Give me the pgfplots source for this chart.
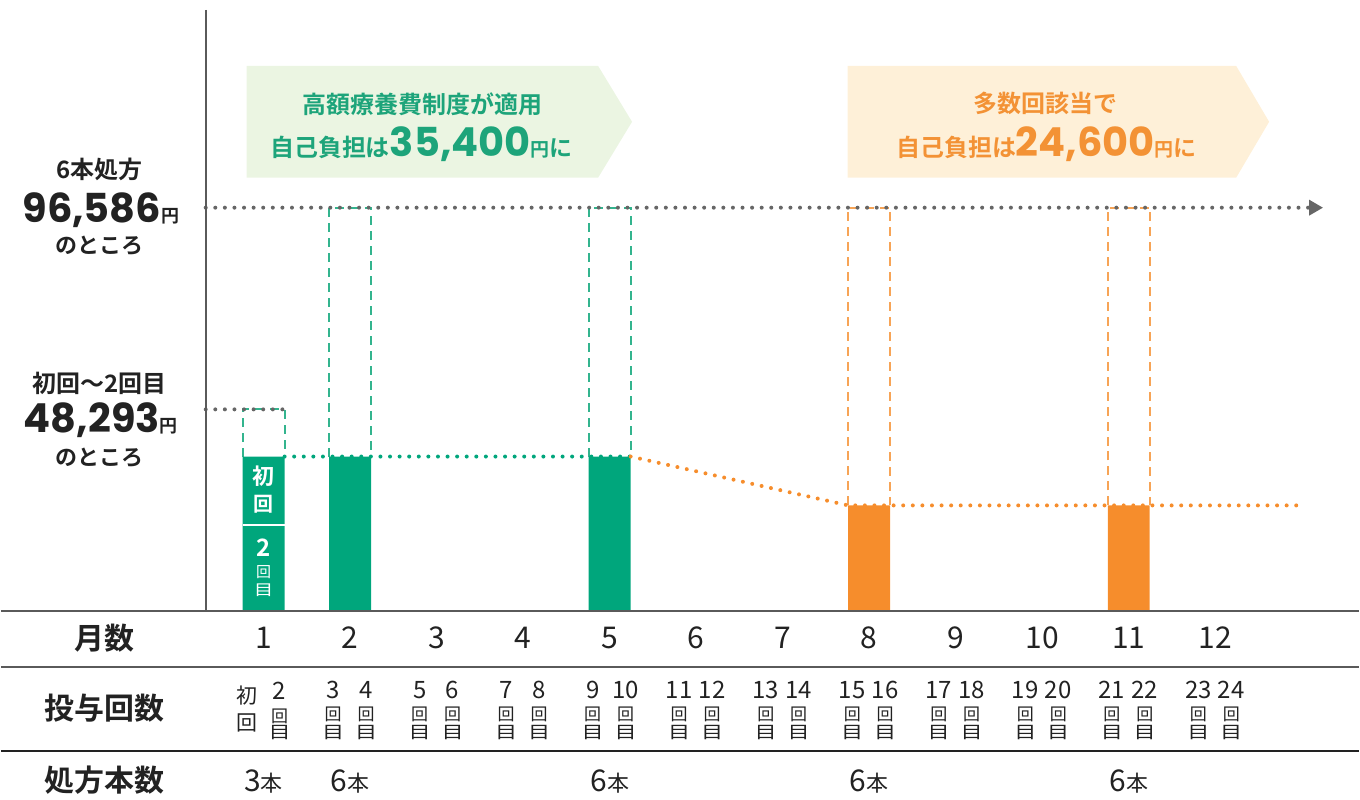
\documentclass[border=0pt]{standalone}
\usepackage{fontspec}
\setmainfont{Noto Sans CJK JP}[BoldFont={Noto Sans CJK JP Bold}]
\newfontfamily\numfont{Poppins}
\usepackage{graphicx}
\usepackage{pgfplots}
\pgfplotsset{compat=1.18}
\usetikzlibrary{arrows.meta}
\definecolor{cgreen}{HTML}{00A67C}
\definecolor{corange}{HTML}{F68D2C}
\definecolor{cgreenl}{HTML}{33B48E}
\definecolor{corangel}{HTML}{F7A456}
\definecolor{bgreen}{HTML}{EBF5E2}
\definecolor{borange}{HTML}{FEF0D8}
\definecolor{tgreen}{HTML}{1DA47A}
\definecolor{torange}{HTML}{F39235}
\definecolor{cdot}{HTML}{666666}
\definecolor{cline}{HTML}{5A5A5A}
\definecolor{ctext}{HTML}{222222}
\newcommand\fs[1]{\fontsize{#1}{#1}\selectfont}
\tikzset{
 dotbase/.style={line width=2pt, line cap=round, dash pattern=on 0pt off 4.8pt},
 dotgray/.style={dotbase, draw=cdot},
 dotg/.style={dotbase, draw=cgreen},
 doto/.style={dotbase, draw=corange},
 dgreen/.style={draw=cgreenl, line width=1pt, dash pattern=on 4.5pt off 3pt},
 dorange/.style={draw=corangel, line width=1pt, dash pattern=on 4.5pt off 3pt},
}
% dose-count cell: month, first number, second number
\newcommand\dose[3]{%
 \node[inner sep=0pt, text=ctext, font=\fs{12pt}] at (axis cs:#1-0.196,-18887) {#2};
 \node[inner sep=0pt, text=ctext, font=\fs{12pt}] at (axis cs:#1+0.185,-18887) {#3};
 \node[inner sep=0pt, text=ctext, font=\fs{8.5pt}] at (axis cs:#1-0.196,-24624) {回};
 \node[inner sep=0pt, text=ctext, font=\fs{8.5pt}] at (axis cs:#1+0.185,-24624) {回};
 \node[inner sep=0pt, text=ctext, font=\fs{8.5pt}] at (axis cs:#1-0.196,-29167) {\scalebox{1.3}[1]{目}};
 \node[inner sep=0pt, text=ctext, font=\fs{8.5pt}] at (axis cs:#1+0.185,-29167) {\scalebox{1.3}[1]{目}};
}
\newcommand\hon[2]{%
 \node[inner sep=0pt, anchor=base, text=ctext] at (axis cs:#1,-43272) {\fs{15pt}#2\fs{11pt}本};
}
\begin{document}
\begin{tikzpicture}
\begin{axis}[scale only axis, width=680pt, height=400.5pt,
 xmin=-2.0355, xmax=13.6614, ymin=-45185, ymax=146311,
 hide axis, clip=false]
\path (rel axis cs:0,0) rectangle (rel axis cs:1,1);

% banners
\fill[bgreen] (rel axis cs:246/1360,1-66/801) -- (rel axis cs:598/1360,1-66/801) -- (rel axis cs:632/1360,1-122/801) -- (rel axis cs:598/1360,1-178/801) -- (rel axis cs:246/1360,1-178/801) -- cycle;
\fill[borange] (rel axis cs:848/1360,1-66/801) -- (rel axis cs:1237/1360,1-66/801) -- (rel axis cs:1270/1360,1-122/801) -- (rel axis cs:1237/1360,1-178/801) -- (rel axis cs:848/1360,1-178/801) -- cycle;

\node[inner sep=0pt, text=tgreen, font=\bfseries\fs{12pt}] at (rel axis cs:422/1360,1-104/801) {高額療養費制度が適用};
\node[inner sep=0pt, anchor=base, text=tgreen, font=\bfseries] at (rel axis cs:421/1360,1-157/801) {\fs{12pt}自己負担は{\numfont\bfseries\fs{20pt}35,400}\fs{9.5pt}円\fs{11.5pt}に};
\node[inner sep=0pt, text=torange, font=\bfseries\fs{12pt}] at (rel axis cs:1046/1360,1-104/801) {多数回該当で};
\node[inner sep=0pt, anchor=base, text=torange, font=\bfseries] at (rel axis cs:1047/1360,1-157/801) {\fs{12pt}自己負担は{\numfont\bfseries\fs{20pt}24,600}\fs{9.5pt}円\fs{11.5pt}に};

% left labels
\node[inner sep=0pt, text=ctext, font=\bfseries\fs{12pt}] at (rel axis cs:99/1360,1-170/801) {6本処方};
\node[inner sep=0pt, anchor=base, text=ctext, font=\bfseries] at (rel axis cs:100/1360,1-223/801) {{\numfont\bfseries\fs{20pt}96,586}\fs{9pt}円};
\node[inner sep=0pt, text=ctext, font=\bfseries\fs{11pt}] at (rel axis cs:99/1360,1-246/801) {のところ};
\node[inner sep=0pt, text=ctext, font=\bfseries\fs{12pt}] at (rel axis cs:99/1360,1-384/801) {初回〜2回目};
\node[inner sep=0pt, anchor=base, text=ctext, font=\bfseries] at (rel axis cs:100/1360,1-433/801) {{\numfont\bfseries\fs{20pt}48,293}\fs{9pt}円};
\node[inner sep=0pt, text=ctext, font=\bfseries\fs{11pt}] at (rel axis cs:99/1360,1-458/801) {のところ};

% dashed outlines (full cost levels)
\addplot[dgreen] coordinates {(0.7576,37000) (0.7576,48293) (1.2424,48293) (1.2424,37000)};
\addplot[dgreen] coordinates {(1.7576,37000) (1.7576,96586) (2.2424,96586) (2.2424,37000)};
\addplot[dgreen] coordinates {(4.7576,37000) (4.7576,96586) (5.2424,96586) (5.2424,37000)};
\addplot[dorange] coordinates {(7.7576,25300) (7.7576,96586) (8.2424,96586) (8.2424,25300)};
\addplot[dorange] coordinates {(10.7576,25300) (10.7576,96586) (11.2424,96586) (11.2424,25300)};

% bars
\addplot[ybar, bar width=0.4848, bar shift=0pt, fill=cgreen, draw=none] coordinates {(1,37000) (2,37000) (5,37000)};
\addplot[ybar, bar width=0.4848, bar shift=0pt, fill=corange, draw=none] coordinates {(8,25300) (11,25300)};

% dotted lines
\addplot[dotg] coordinates {(1.2424,37000) (5.2424,37000)};
\addplot[doto] coordinates {(5.2424,37000) (7.7576,25300) (13.027,25300)};
\addplot[dotgray] coordinates {(0.3306,48293) (1.2424,48293)};
\addplot[dotgray, -{Triangle[length=7pt,width=7.5pt]}] coordinates {(0.3306,96586) (13.2461,96586)};

% labels inside first bar
\node[inner sep=0pt, text=white, font=\bfseries\fs{11pt}] at (axis cs:1,32274) {初};
\node[inner sep=0pt, text=white, font=\bfseries\fs{10pt}] at (axis cs:1,25580) {回};
\draw[white, line width=1pt] (axis cs:0.7576,20560) -- (axis cs:1.2424,20560);
\node[inner sep=0pt, text=white, font=\bfseries\fs{12pt}] at (axis cs:1,15061) {2};
\node[inner sep=0pt, text=white, font=\fs{7.5pt}] at (axis cs:1,9324) {回};
\node[inner sep=0pt, text=white, font=\fs{7.5pt}] at (axis cs:1,5020) {\scalebox{1.3}[1]{目}};

% axis line and table rules
\draw[cline, line width=1pt] (rel axis cs:205/1360,1-10/801) -- (rel axis cs:205/1360,1-612/801);
\draw[cline, line width=1pt] (rel axis cs:0,1-612/801) -- (rel axis cs:1,1-612/801);
\draw[cline, line width=1pt] (rel axis cs:0,1-668/801) -- (rel axis cs:1,1-668/801);
\draw[ctext, line width=1pt] (rel axis cs:0,1-752/801) -- (rel axis cs:1,1-752/801);

% table row headings
\node[inner sep=0pt, text=ctext, font=\bfseries\fs{15pt}] at (rel axis cs:104/1360,1-639/801) {月数};
\node[inner sep=0pt, text=ctext, font=\bfseries\fs{15pt}] at (rel axis cs:104/1360,1-709/801) {投与回数};
\node[inner sep=0pt, text=ctext, font=\bfseries\fs{15pt}] at (rel axis cs:104/1360,1-781/801) {処方本数};

% month numbers
\pgfplotsinvokeforeach{1,...,12}{
 \node[inner sep=0pt, text=ctext, font=\fs{15pt}] at (axis cs:#1,-6455) {#1};
}

% dose counts
\node[inner sep=0pt, text=ctext, font=\fs{10.5pt}] at (axis cs:0.804,-20321) {初};
\node[inner sep=0pt, text=ctext, font=\fs{10.5pt}] at (axis cs:0.804,-26776) {回};
\node[inner sep=0pt, text=ctext, font=\fs{12pt}] at (axis cs:1.185,-19126) {2};
\node[inner sep=0pt, text=ctext, font=\fs{8.5pt}] at (axis cs:1.185,-25102) {回};
\node[inner sep=0pt, text=ctext, font=\fs{8.5pt}] at (axis cs:1.185,-29167) {\scalebox{1.3}[1]{目}};
\dose{2}{3}{4}
\dose{3}{5}{6}
\dose{4}{7}{8}
\dose{5}{9}{10}
\dose{6}{11}{12}
\dose{7}{13}{14}
\dose{8}{15}{16}
\dose{9}{17}{18}
\dose{10}{19}{20}
\dose{11}{21}{22}
\dose{12}{23}{24}

% prescription counts
\hon{1}{3}
\hon{2}{6}
\hon{5}{6}
\hon{8}{6}
\hon{11}{6}
\end{axis}
\end{tikzpicture}
\end{document}
